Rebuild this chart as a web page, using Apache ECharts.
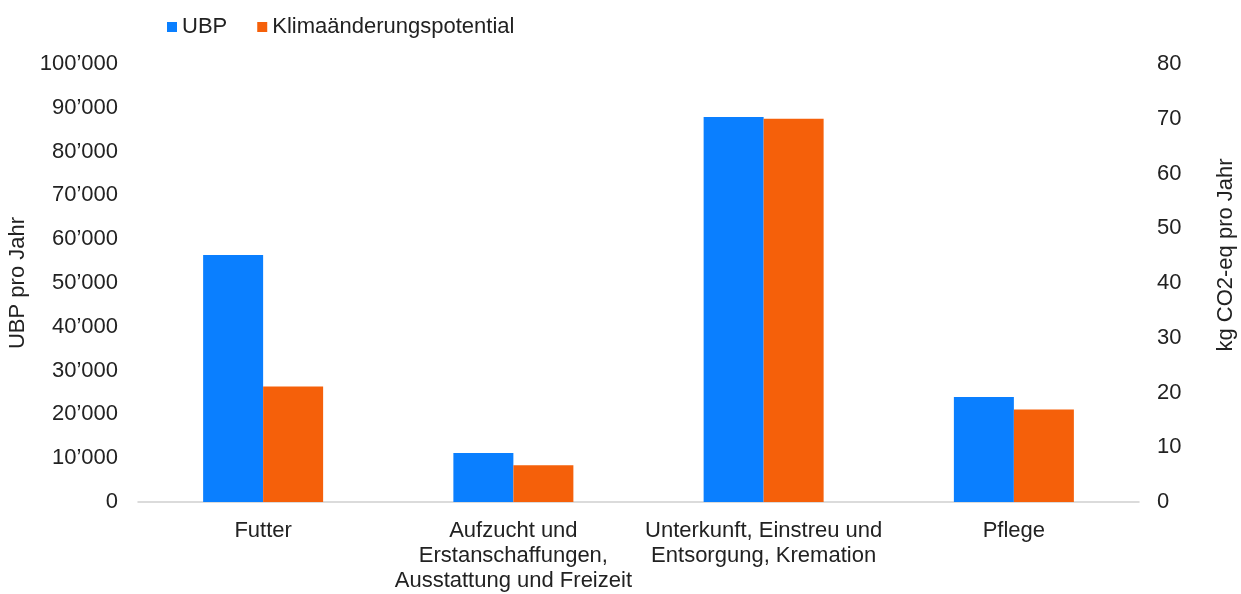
<!DOCTYPE html>
<html>
<head>
<meta charset="utf-8">
<script src="https://cdn.jsdelivr.net/npm/echarts@6/dist/echarts.min.js"></script>
<style>
  html, body { margin: 0; padding: 0; background: #fff; }
  #chart { width: 1241px; height: 594px; }
</style>
</head>
<body>
<div id="chart"></div>
<script>
const categories = [
    'Futter',
    'Aufzucht und\nErstanschaffungen,\nAusstattung und Freizeit',
    'Unterkunft, Einstreu und\nEntsorgung, Kremation',
    'Pflege'
];
const ubpValues = [56400, 11200, 87900, 24000];
const klimaValues = [21.1, 6.7, 70.0, 16.9];

const fontFamily = '"Liberation Sans", Arial, sans-serif';
const textColor = '#222';
const fontSize = 22;

// 100000 -> 100’000
const fmtThousands = (v) => String(v).replace(/\B(?=(\d{3})+(?!\d))/g, '’');

const myChart = echarts.init(document.getElementById('chart'));

const option = {
    backgroundColor: '#fff',
    textStyle: { fontFamily: fontFamily },
    legend: {
        left: 162,
        top: 11,
        itemWidth: 10,
        itemHeight: 10,
        itemGap: 30,
        icon: 'rect',
        textStyle: { fontSize: fontSize, color: textColor, fontFamily: fontFamily },
        data: ['UBP', 'Klimaänderungspotential']
    },
    grid: {
        left: 138,
        right: 102,
        top: 64,
        bottom: 92,
        containLabel: false,
        outerBoundsMode: 'none'
    },
    xAxis: {
        type: 'category',
        data: categories,
        axisLine: { show: true, lineStyle: { color: '#d0d0d0', width: 1.5 } },
        axisTick: { show: false },
        axisLabel: {
            interval: 0,
            color: textColor,
            fontSize: fontSize,
            lineHeight: 25,
            margin: 16,
            fontFamily: fontFamily
        }
    },
    yAxis: [
        {
            type: 'value',
            min: 0,
            max: 100000,
            interval: 10000,
            name: 'UBP pro Jahr',
            nameLocation: 'middle',
            nameRotate: 90,
            nameGap: 100,
            nameTextStyle: { fontSize: fontSize, color: textColor, fontFamily: fontFamily },
            axisLine: { show: false },
            axisTick: { show: false },
            splitLine: { show: false },
            axisLabel: {
                color: textColor,
                fontSize: fontSize,
                margin: 20,
                fontFamily: fontFamily,
                formatter: fmtThousands
            }
        },
        {
            type: 'value',
            min: 0,
            max: 80,
            interval: 10,
            name: 'kg CO2-eq pro Jahr',
            nameLocation: 'middle',
            nameRotate: 90,
            nameGap: 76,
            nameTextStyle: {
                fontSize: fontSize,
                color: textColor,
                fontFamily: fontFamily,
                padding: [0, 0, 0, 56]
            },
            axisLine: { show: false },
            axisTick: { show: false },
            splitLine: { show: false },
            axisLabel: {
                color: textColor,
                fontSize: fontSize,
                margin: 18,
                fontFamily: fontFamily
            }
        }
    ],
    series: [
        {
            name: 'UBP',
            type: 'bar',
            yAxisIndex: 0,
            data: ubpValues,
            barWidth: 60,
            barGap: '0%',
            itemStyle: { color: '#0A7FFF' }
        },
        {
            name: 'Klimaänderungspotential',
            type: 'bar',
            yAxisIndex: 1,
            data: klimaValues,
            barWidth: 60,
            barGap: '0%',
            itemStyle: { color: '#F5600A' }
        }
    ]
};

option && myChart.setOption(option);
</script>
</body>
</html>
